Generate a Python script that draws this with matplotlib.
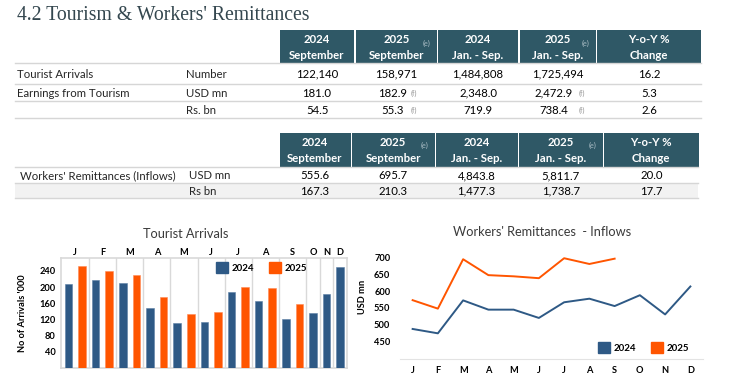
import matplotlib
matplotlib.use("Agg")
import matplotlib.pyplot as plt
from matplotlib.patches import Rectangle, Patch

# ---------------- data ----------------
title = "4.2 Tourism & Workers' Remittances"
head_top = ["2024", "2025", "2024", "2025", "Y-o-Y %"]
head_bot = ["September", "September", "Jan. - Sep.", "Jan. - Sep.", "Change"]
head_note = ["", "(e)", "", "(e)", ""]

t1_labels = ["Tourist Arrivals", "Earnings from Tourism", ""]
t1_units = ["Number", "USD mn", "Rs. bn"]
t1_values = [["122,140", "158,971", "1,484,808", "1,725,494", "16.2"],
             ["181.0", "182.9", "2,348.0", "2,472.9", "5.3"],
             ["54.5", "55.3", "719.9", "738.4", "2.6"]]
t1_notes = [["", "", "", "", ""],
            ["", "(f)", "", "(f)", ""],
            ["", "(f)", "", "(f)", ""]]

t2_labels = ["Workers' Remittances (Inflows)", ""]
t2_units = ["USD mn", "Rs bn"]
t2_values = [["555.6", "695.7", "4,843.8", "5,811.7", "20.0"],
             ["167.3", "210.3", "1,477.3", "1,738.7", "17.7"]]

months = ["J", "F", "M", "A", "M", "J", "J", "A", "S", "O", "N", "D"]
arrivals_2024 = [208.3, 218.4, 209.2, 148.9, 112.1, 113.5, 187.8, 164.6, 122.1, 135.9, 184.2, 248.6]
arrivals_2025 = [252.8, 240.2, 229.3, 174.6, 132.9, 138.2, 200.2, 198.2, 159.0]
remit_2024 = [487.9, 475.0, 572.4, 545.0, 545.0, 520.5, 566.8, 577.4, 555.6, 587.7, 530.9, 613.5]
remit_2025 = [573.0, 548.0, 694.0, 647.0, 643.5, 638.0, 697.0, 680.0, 695.7]

BLUE = "#2E5985"
ORANGE = "#FF5500"
HEAD = "#2F5866"
TXT = "#262626"
FONT = "Lato"
TS = 8.2   # table font size
AS = 6.7   # axis label size

W, H = 750, 379
fig = plt.figure(figsize=(7.5, 3.79), dpi=100)
plt.rcParams['font.family'] = [FONT, 'DejaVu Sans']

ov = fig.add_axes([0, 0, 1, 1])
ov.set_xlim(0, W)
ov.set_ylim(H, 0)
ov.axis('off')


def ax_px(l, t, r, b):
    return fig.add_axes([l / W, 1 - b / H, (r - l) / W, (b - t) / H])


ov.text(17, 16, title, family="Liberation Serif", fontsize=14.2, color="#34474F",
        va="center", ha="left")


def draw_table(htop, hbot, cols, rows, labels, units, values, notes,
               line_x, label_x, unit_x, note_dx, e_dy):
    # header
    for i, (l, r) in enumerate(cols):
        ov.add_patch(Rectangle((l, htop), r - l, hbot - htop, color=HEAD, lw=0))
        cx = (l + r) / 2
        ov.text(cx, htop + (hbot - htop) * 0.29, head_top[i], color="white",
                fontsize=TS, fontweight="bold", ha="center", va="center")
        ov.text(cx, htop + (hbot - htop) * 0.76, head_bot[i], color="white",
                fontsize=TS, fontweight="bold", ha="center", va="center")
        if head_note[i]:
            ov.text(r - 10, htop + e_dy, head_note[i], color="#A9BCC4",
                    fontsize=5.2, ha="center", va="center")
    ov.plot([line_x[0], line_x[1]], [hbot, hbot], color="#D6D6D6", lw=1)
    for j, (t, b) in enumerate(rows):
        if j % 2 == 1 and j == len(rows) - 1:
            ov.add_patch(Rectangle((line_x[0], t), line_x[1] - line_x[0], b - t,
                                   color="#F2F2F2", lw=0))
        ov.plot([line_x[0], line_x[1]], [b, b], color="#D6D6D6", lw=1)
        cy = (t + b) / 2 + 0.5
        ov.text(label_x, cy, labels[j], color=TXT, fontsize=TS, ha="left", va="center")
        ov.text(unit_x, cy, units[j], color=TXT, fontsize=TS, ha="left", va="center")
        for i, (l, r) in enumerate(cols):
            cx = (l + r) / 2
            nt = notes[j][i] if notes else ""
            ov.text(cx - (4 if nt else 0), cy, values[j][i], color="black",
                    fontsize=TS, ha="center", va="center")
            if nt:
                ov.text(cx + note_dx[i], cy, nt, color="#9A9A9A", fontsize=5.2,
                        ha="center", va="center")


cols1 = [(280, 354), (355.5, 437), (438, 518), (519.5, 596), (597, 701)]
rows1 = [(63.3, 84.3), (84.3, 101), (101, 118.3)]
draw_table(30, 63.3, cols1, rows1, t1_labels, t1_units, t1_values, t1_notes,
           (15, 701), 17, 186, [0, 18, 0, 24, 0], 13)

cols2 = [(279.5, 350.5), (352, 434.5), (435.5, 517.7), (519, 602.5), (604, 698.5)]
rows2 = [(166.7, 183.3), (183.3, 198.3)]
draw_table(133.3, 166.7, cols2, rows2, t2_labels, t2_units, t2_values, None,
           (15, 698), 20.5, 189, [0] * 5, 12.5)

# ---------------- bar chart ----------------
ax = ax_px(61, 258, 347, 368)
ax.set_facecolor("none")
pos24, pos25, centers, bounds = [], [], [], []
p = 0
for m in range(12):
    if m < len(arrivals_2025):
        pos24.append(p)
        pos25.append(p + 1)
        centers.append(p + 0.5)
        p += 2
    else:
        pos24.append(p)
        centers.append(p)
        p += 1
    bounds.append(p - 0.5)
ax.bar(pos24, arrivals_2024, width=0.56, color=BLUE, edgecolor="#5B7FA6", lw=0.4, zorder=3)
ax.bar(pos25, arrivals_2025, width=0.56, color=ORANGE, edgecolor="#FF8A55", lw=0.4, zorder=3)
for bx in bounds[:-1]:
    ax.axvline(bx, color="#D9D9D9", lw=1, zorder=1)
ax.set_xlim(-0.55, p - 0.5)
ax.set_ylim(0, 272)
ax.set_yticks([40, 80, 120, 160, 200, 240])
ax.tick_params(axis='y', length=0, labelsize=AS, pad=4, colors="black")
for lab in ax.get_yticklabels():
    lab.set_fontweight("bold")
ax.set_xticks(centers)
ax.set_xticklabels(months, fontsize=AS, fontweight="bold")
ax.tick_params(axis='x', length=0, top=True, bottom=False, labeltop=True,
               labelbottom=False, pad=1)
for s in ax.spines.values():
    s.set_color("#D9D9D9")
    s.set_linewidth(1.2)
ax.set_ylabel("No of Arrivals '000", fontsize=AS, fontweight="bold", labelpad=6)
ax.yaxis.set_label_coords((27 - 61) / 286, (368 - 313) / 110)
ov.text(186, 234, "Tourist Arrivals", fontsize=9.2, color="#3A3A3A", ha="center", va="center")
leg = ax.legend([Patch(color=BLUE), Patch(color=ORANGE)], ["2024", "2025"],
                loc="center", bbox_to_anchor=(261.5 / W, 1 - 267.5 / H),
                bbox_transform=fig.transFigure, ncol=2, frameon=False,
                prop={"size": 7.0, "weight": "bold"}, handlelength=1.3,
                handleheight=1.3, columnspacing=1.5, handletextpad=0.35)

# ---------------- line chart ----------------
lx = ax_px(400, 240.3, 703, 358.7)
lx.set_facecolor("none")
lx.plot(range(12), remit_2024, color=BLUE, lw=1.4)
lx.plot(range(len(remit_2025)), remit_2025, color=ORANGE, lw=1.4)
lx.set_xlim(-0.5, 11.5)
lx.set_ylim(400, 750)
lx.set_yticks([450, 500, 550, 600, 650, 700])
lx.set_xticks(range(12))
lx.set_xticklabels(months, fontsize=AS, fontweight="bold")
lx.tick_params(axis='x', length=0, pad=5)
lx.tick_params(axis='y', length=0, labelsize=AS, pad=7)
for lab in lx.get_yticklabels():
    lab.set_fontweight("bold")
for k, s in lx.spines.items():
    s.set_visible(k == "bottom")
lx.spines["bottom"].set_color("#E3E3E3")
lx.set_ylabel("USD mn", fontsize=AS, fontweight="bold")
lx.yaxis.set_label_coords((367 - 400) / 303, (358.7 - 296.7) / 118.4)
ov.text(542.5, 231.5, "Workers' Remittances  - Inflows", fontsize=9.2, color="#3A3A3A",
        ha="center", va="center")
lx.legend([Patch(color=BLUE), Patch(color=ORANGE)], ["2024", "2025"],
          loc="center", bbox_to_anchor=(643.5 / W, 1 - 347.5 / H),
          bbox_transform=fig.transFigure, ncol=2, frameon=False,
          prop={"size": 7.0, "weight": "bold"}, handlelength=1.3,
          handleheight=1.3, columnspacing=1.5, handletextpad=0.35)

fig.savefig("out.png", dpi=100)
